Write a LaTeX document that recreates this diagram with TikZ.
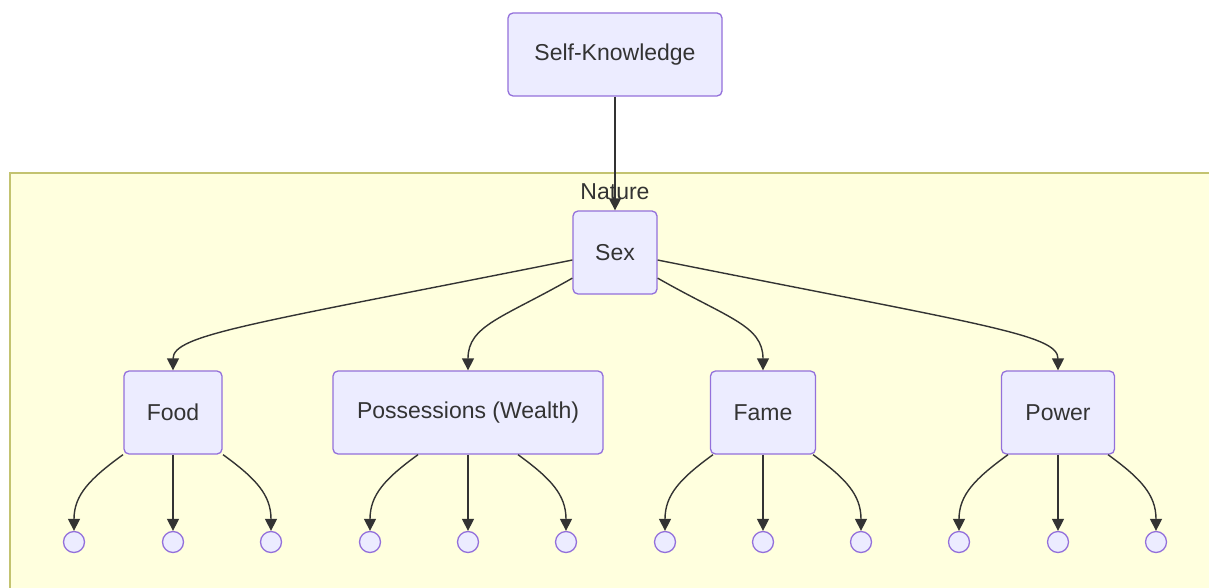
\documentclass[tikz,border=0pt]{standalone}
\usepackage{fontspec}
\setmainfont{Liberation Sans}
\usetikzlibrary{arrows.meta}
\definecolor{boxfill}{HTML}{ECECFF}
\definecolor{boxline}{HTML}{9370DB}
\definecolor{clusterfill}{HTML}{FFFFDE}
\definecolor{clusterline}{HTML}{AAAA33}
\definecolor{inktext}{HTML}{333333}
\tikzset{
  box/.style={draw=boxline, fill=boxfill, line width=1.3pt, rounded corners=5pt,
    text=inktext, font=\fontsize{23}{27}\selectfont, inner sep=0pt, minimum height=83pt},
  leaf/.style={draw=boxline, fill=boxfill, circle, line width=1.3pt, minimum size=21pt, inner sep=0pt},
  edge/.style={draw=inktext, line width=1.4pt, -{Triangle[length=12pt,width=12pt]}},
}
\begin{document}
\begin{tikzpicture}[x=1pt,y=-1pt]
\useasboundingbox (0,0) rectangle (1209,588);
\clip (0,0) rectangle (1209,588);
\fill[color=white] (0,0) rectangle (1209,588);
\draw[draw=clusterline!70, fill=clusterfill, line width=1.8pt] (10,173) rectangle (1240,620);
\node[text=inktext, font=\fontsize{23}{27}\selectfont] (nature) at (615,192) {Nature};

\node[box, minimum width=214pt] (self) at (615,54.5) {Self-Knowledge};
\node[box, minimum width=84pt] (sex) at (615,252.5) {Sex};
\node[box, minimum width=98pt] (food) at (173,412.5) {Food};
\node[box, minimum width=270pt] (wealth) at (468,412.5) {Possessions (Wealth)};
\node[box, minimum width=105pt] (fame) at (763,412.5) {Fame};
\node[box, minimum width=113pt] (power) at (1058,412.5) {Power};

\node[leaf] (food1) at (74,542) {};
\node[leaf] (food2) at (173,542) {};
\node[leaf] (food3) at (271,542) {};
\node[leaf] (wealth1) at (370,542) {};
\node[leaf] (wealth2) at (468,542) {};
\node[leaf] (wealth3) at (566,542) {};
\node[leaf] (fame1) at (665,542) {};
\node[leaf] (fame2) at (763,542) {};
\node[leaf] (fame3) at (861,542) {};
\node[leaf] (power1) at (959,542) {};
\node[leaf] (power2) at (1058,542) {};
\node[leaf] (power3) at (1156,542) {};

\path[edge] (self) -- (sex);
\path[edge] (sex.190) .. controls +(-320,64) and +(0,-36) .. (food.north);
\path[edge] (sex.211) .. controls +(-70,40) and +(0,-45) .. (wealth.north);
\path[edge] (sex.329) .. controls +(70,40) and +(0,-45) .. (fame.north);
\path[edge] (sex.350) .. controls +(325,65) and +(0,-36) .. (power.north);

\path[edge] ([xshift=-50pt]food.south) .. controls +(-33,24) and +(0,-36) .. (food1.north);
\path[edge] (food) -- (food2);
\path[edge] ([xshift=50pt]food.south) .. controls +(33,24) and +(0,-36) .. (food3.north);
\path[edge] ([xshift=-50pt]wealth.south) .. controls +(-33,24) and +(0,-36) .. (wealth1.north);
\path[edge] (wealth) -- (wealth2);
\path[edge] ([xshift=50pt]wealth.south) .. controls +(33,24) and +(0,-36) .. (wealth3.north);
\path[edge] ([xshift=-50pt]fame.south) .. controls +(-33,24) and +(0,-36) .. (fame1.north);
\path[edge] (fame) -- (fame2);
\path[edge] ([xshift=50pt]fame.south) .. controls +(33,24) and +(0,-36) .. (fame3.north);
\path[edge] ([xshift=-50pt]power.south) .. controls +(-33,24) and +(0,-36) .. (power1.north);
\path[edge] (power) -- (power2);
\path[edge] ([xshift=50pt]power.south) .. controls +(33,24) and +(0,-36) .. (power3.north);
\end{tikzpicture}
\end{document}
